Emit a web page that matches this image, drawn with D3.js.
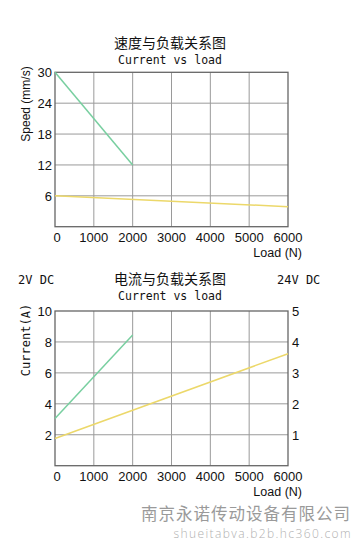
<!DOCTYPE html>
<html><head><meta charset="utf-8">
<script src="https://cdn.jsdelivr.net/npm/d3@7"></script>
<style>body{margin:0;background:#fff}svg{display:block}</style>
</head><body>
<svg id="c" width="361" height="541"></svg>
<script>
const loadTicks = [0,1000,2000,3000,4000,5000,6000];
const speedTicks = [6,12,18,24,30];
const currentTicks = [2,4,6,8,10];
const current24Ticks = [1,2,3,4,5];
// speed chart
const speedGreenLoad = [0,2000];
const speedGreenVal = [30,12];
const speedYellowLoad = [0,6000];
const speedYellowVal = [6,3.9];
// current chart
const curGreenLoad = [0,2000];
const curGreenVal = [3.05,8.45];        // left axis (A), 2V DC
const curYellowLoad = [0,6000];
const curYellowVal = [0.88,3.62];       // right axis (A), 24V DC

const svg = d3.select("#c");
const L = 55, R = 288;
const green = "#78cfa0", yellow = "#ecd86a", grid = "#9a9a9a", border = "#666";
const numFont = "'Liberation Sans', Arial, sans-serif";
const monoFont = "'DejaVu Sans Mono', 'Liberation Mono', monospace";
const cjkFont = "'Noto Sans CJK SC', sans-serif";

function panel(top, bottom, yMax, yTicks, opts) {
  const x = d3.scaleLinear().domain([0,6000]).range([L,R]);
  const y = d3.scaleLinear().domain([0,yMax]).range([bottom, top]);
  const g = svg.append("g");
  g.selectAll("line.v").data(loadTicks.slice(1,-1)).join("line")
    .attr("x1",d=>x(d)).attr("x2",d=>x(d)).attr("y1",top).attr("y2",bottom)
    .attr("stroke",grid).attr("stroke-width",1);
  g.selectAll("line.h").data(yTicks.filter(d=>d<yMax)).join("line")
    .attr("x1",L).attr("x2",R).attr("y1",d=>y(d)).attr("y2",d=>y(d))
    .attr("stroke",grid).attr("stroke-width",1);
  g.append("rect").attr("x",L).attr("y",top).attr("width",R-L).attr("height",bottom-top)
    .attr("fill","none").attr("stroke",border).attr("stroke-width",1.3);
  g.selectAll("text.xt").data(loadTicks).join("text")
    .attr("x",d=>x(d)+(d===0?2:0)).attr("y",bottom+15).attr("text-anchor","middle")
    .attr("font-family",numFont).attr("font-size",13).attr("fill","#111").text(d=>d);
  g.selectAll("text.yt").data(yTicks).join("text")
    .attr("x",L-3).attr("y",d=>y(d)+5).attr("text-anchor","end")
    .attr("font-family",numFont).attr("font-size",13).attr("fill","#111").text(d=>d);
  g.append("text").attr("x",302).attr("y",bottom+30).attr("text-anchor","end")
    .attr("font-family",numFont).attr("font-size",12.5).attr("fill","#111").text("Load (N)");
  g.append("text").attr("transform",`translate(30,${opts.ylabY}) rotate(-90)`)
    .attr("text-anchor","middle").attr("font-family",opts.ylabFont).attr("font-size",12)
    .attr("fill","#111").text(opts.ylab);
  g.append("text").attr("x",170).attr("y",opts.titleY).attr("text-anchor","middle")
    .attr("font-family",cjkFont).attr("font-size",14).attr("fill","#111").text(opts.title);
  g.append("text").attr("x",170).attr("y",opts.titleY+16).attr("text-anchor","middle")
    .attr("font-family",monoFont).attr("font-size",11.5).attr("fill","#111").text("Current vs load");
  return {x,y,g};
}

// top panel
const p1 = panel(72.3, 226.7, 30, speedTicks, {title:"速度与负载关系图", titleY:48, ylab:"Speed (mm/s)", ylabY:104, ylabFont:numFont});
const line1 = d3.line();
p1.g.append("path").attr("d", line1(speedGreenLoad.map((d,i)=>[p1.x(d),p1.y(speedGreenVal[i])])))
  .attr("fill","none").attr("stroke",green).attr("stroke-width",1.5);
p1.g.append("path").attr("d", line1(speedYellowLoad.map((d,i)=>[p1.x(d),p1.y(speedYellowVal[i])])))
  .attr("fill","none").attr("stroke",yellow).attr("stroke-width",1.5);

// bottom panel
const p2 = panel(311, 465.7, 10, currentTicks, {title:"电流与负载关系图", titleY:284, ylab:"Current(A)", ylabY:340, ylabFont:monoFont});
const y2 = d3.scaleLinear().domain([0,5]).range([465.7,311]);
p2.g.selectAll("text.rt").data(current24Ticks).join("text")
  .attr("x",R+4).attr("y",d=>y2(d)+5).attr("text-anchor","start")
  .attr("font-family",numFont).attr("font-size",13).attr("fill","#111").text(d=>d);
p2.g.append("path").attr("d", line1(curGreenLoad.map((d,i)=>[p2.x(d),p2.y(curGreenVal[i])])))
  .attr("fill","none").attr("stroke",green).attr("stroke-width",1.5);
p2.g.append("path").attr("d", line1(curYellowLoad.map((d,i)=>[p2.x(d),y2(curYellowVal[i])])))
  .attr("fill","none").attr("stroke",yellow).attr("stroke-width",1.5);
svg.append("text").attr("x",18).attr("y",284).attr("font-family",monoFont).attr("font-size",12)
  .attr("fill","#111").text("2V DC");
svg.append("text").attr("x",277).attr("y",284).attr("font-family",monoFont).attr("font-size",12)
  .attr("fill","#111").text("24V DC");

// watermark
svg.append("text").attr("x",351).attr("y",519.5).attr("text-anchor","end")
  .attr("font-family",cjkFont).attr("font-size",16.5).attr("letter-spacing",1)
  .attr("fill","#9a9a9a").text("南京永诺传动设备有限公司");
svg.append("text").attr("x",352).attr("y",537.5).attr("text-anchor","end")
  .attr("font-family","'Open Sans', sans-serif").attr("font-size",12).attr("font-weight",300)
  .attr("letter-spacing",1.4).attr("fill","#b0b0b0").text("shueitabva.b2b.hc360.com");
</script>
</body></html>
